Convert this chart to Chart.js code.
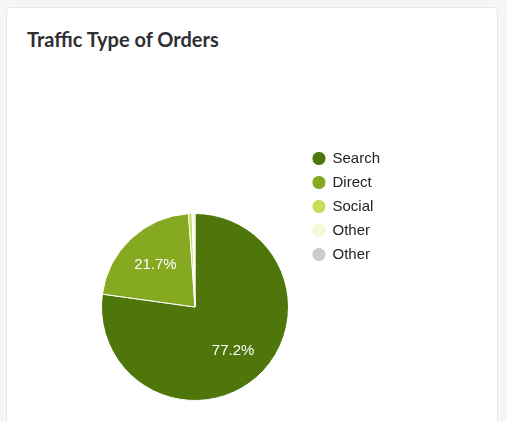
<!DOCTYPE html>
<html>
<head>
<meta charset="utf-8">
<script src="https://cdn.jsdelivr.net/npm/chart.js@4.4.1/dist/chart.umd.min.js"></script>
<style>
  html, body {
    margin: 0;
    padding: 0;
    width: 507px;
    height: 421px;
    overflow: hidden;
    background: #f5f6f8;
  }
  .card {
    position: absolute;
    left: 6px;
    top: 7px;
    width: 490px;
    height: 440px;
    background: #fff;
    border: 1px solid #e6e7ea;
    border-radius: 5px;
  }
  .card h3 {
    position: absolute;
    left: 20px;
    top: 19px;
    margin: 0;
    font-family: Lato, "Open Sans", sans-serif;
    font-weight: 700;
    font-size: 20px;
    color: #2f2f33;
  }
  #chart-wrap {
    position: absolute;
    left: 0;
    top: 142px;
    width: 400px;
    height: 330px;
  }
</style>
</head>
<body>
<div class="card">
  <h3>Traffic Type of Orders</h3>
</div>
<div id="chart-wrap">
  <canvas id="traffic-chart"></canvas>
</div>
<script>
  // Data
  const trafficLabels = ["Search", "Direct", "Social", "Other", "Other"];
  const trafficValues = [77.2, 21.7, 0.6, 0.5, 0];
  const trafficColors = ["#4f760a", "#85a921", "#c4e05a", "#f3fad6", "#cccccc"];

  // Draws the % labels inside the big slices
  const pctLabels = {
    id: "pctLabels",
    afterDatasetsDraw: (chart) => {
      const ctx = chart.ctx;
      const meta = chart.getDatasetMeta(0);
      const values = chart.data.datasets[0].data;
      const total = values.reduce((a, b) => a + b, 0);
      ctx.save();
      ctx.font = "15px 'Liberation Sans', Arial, sans-serif";
      ctx.fillStyle = "#ffffff";
      ctx.textAlign = "center";
      ctx.textBaseline = "middle";
      meta.data.forEach((arc, i) => {
        const pct = values[i] / total * 100;
        if (pct < 5) return;
        const p = arc.getProps(["x", "y", "startAngle", "endAngle", "outerRadius"], true);
        const mid = (p.startAngle + p.endAngle) / 2;
        const r = p.outerRadius * 0.62;
        ctx.fillText(pct.toFixed(1) + "%", p.x + Math.cos(mid) * r, p.y + Math.sin(mid) * r);
      });
      ctx.restore();
    },
  };

  new Chart(document.getElementById("traffic-chart"), {
    type: "pie",
    data: {
      labels: trafficLabels,
      datasets: [{
        data: trafficValues,
        backgroundColor: trafficColors,
        borderColor: "#ffffff",
        borderWidth: 1,
        hoverOffset: 0,
      }],
    },
    options: {
      responsive: true,
      maintainAspectRatio: false,
      animation: false,
      radius: 93.5,
      layout: {
        padding: { left: 86, right: 10, top: 0, bottom: 0 },
      },
      plugins: {
        legend: {
          position: "right",
          align: "start",
          labels: {
            usePointStyle: true,
            pointStyle: "circle",
            boxWidth: 12,
            boxHeight: 10,
            padding: 9,
            color: "#222222",
            font: { family: "'Liberation Sans', Arial, sans-serif", size: 15 },
          },
        },
        tooltip: { enabled: false },
      },
    },
    plugins: [pctLabels],
  });
</script>
</body>
</html>
